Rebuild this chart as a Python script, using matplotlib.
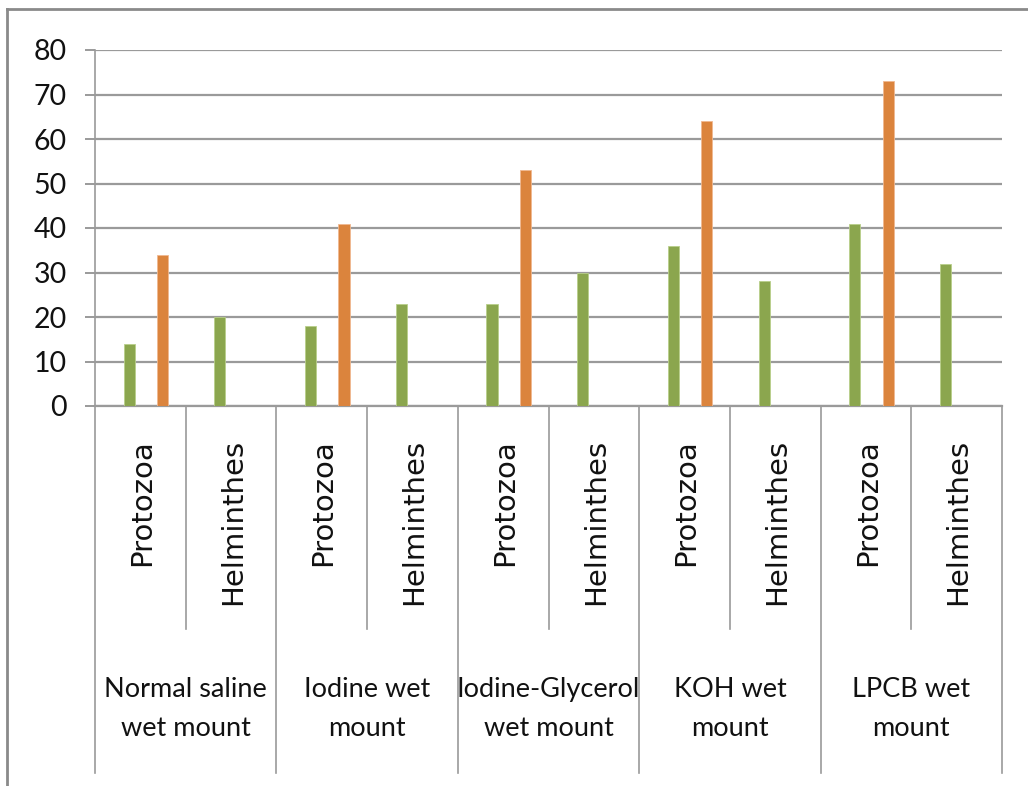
import matplotlib
matplotlib.use("Agg")
import matplotlib.pyplot as plt
import matplotlib.transforms as mtransforms
from matplotlib.lines import Line2D
import numpy as np

# Data: detection counts by staining method and parasite group
methods = ["Normal saline\nwet mount", "Iodine wet\nmount", "Iodine-Glycerol\nwet mount",
           "KOH wet\nmount", "LPCB wet\nmount"]
subgroups = ["Protozoa", "Helminthes"]
green_vals = [14, 20, 18, 23, 23, 30, 36, 28, 41, 32]
orange_vals = [34, 0, 41, 0, 53, 0, 64, 0, 73, 0]
y_ticks = [0, 10, 20, 30, 40, 50, 60, 70, 80]

GREEN = "#8BA64E"
ORANGE = "#DB843D"
GRID = "#9a9a9a"

W, H = 1028, 786
fig = plt.figure(figsize=(W / 100, H / 100), dpi=100)
fig.patch.set_facecolor("white")

ax_left, ax_right, ax_top, ax_bottom = 95, 1002, 50, 406
ax = fig.add_axes([ax_left / W, 1 - ax_bottom / H, (ax_right - ax_left) / W, (ax_bottom - ax_top) / H])

n_cat = len(green_vals)
centers = np.arange(n_cat) + 0.5
bar_w = 0.123
ax.bar(centers - bar_w, green_vals, width=bar_w, color=GREEN, edgecolor="#b9cf8a", linewidth=0.6, zorder=3)
ax.bar(centers + 2 * bar_w, orange_vals, width=bar_w, color=ORANGE, edgecolor="#f0b890", linewidth=0.6, zorder=3)

ax.set_xlim(0, n_cat)
ax.set_ylim(0, 80)
ax.set_yticks(y_ticks)
ax.set_xticks([])
ax.yaxis.grid(True, color=GRID, linewidth=1.6, zorder=0)
ax.set_axisbelow(True)
for side in ("top", "right"):
    ax.spines[side].set_visible(False)
ax.spines["left"].set_color(GRID)
ax.spines["left"].set_linewidth(1.2)
ax.spines["bottom"].set_color(GRID)
ax.spines["bottom"].set_linewidth(1.6)
ax.tick_params(axis="y", length=7.2, width=1.4, color=GRID, pad=13,
               labelsize=20.5, labelcolor="#111111")
for lbl in ax.get_yticklabels():
    lbl.set_fontfamily("Lato")

# Category axis: rotated subgroup labels, separators and method labels
trans = mtransforms.blended_transform_factory(ax.transData, fig.transFigure)
y_axis_fig = 1 - ax_bottom / H
y_short = 1 - 629 / H
y_long = 1 - 773 / H
for i in range(n_cat + 1):
    y_end = y_long if i % 2 == 0 else y_short
    fig.add_artist(Line2D([i, i], [y_axis_fig, y_end], transform=trans, color=GRID, linewidth=1.2))

for i, c in enumerate(centers):
    fig.text(c + 0.02, 1 - 439 / H, subgroups[i % 2], transform=trans, rotation=90,
             ha="center", va="top", fontsize=21, family="DejaVu Sans", color="#111111")

for j, name in enumerate(methods):
    fig.text(2 * j + 1, 1 - 709 / H, name, transform=trans, ha="center", va="center",
             fontsize=19.5, family="Lato", color="#111111", linespacing=1.72)

# Outer chart frame
fig.add_artist(Line2D([7 / W, 7 / W], [1 - 9 / H, 0], transform=fig.transFigure, color="#8a8a8a", linewidth=2))
fig.add_artist(Line2D([7 / W, 1], [1 - 9 / H, 1 - 9 / H], transform=fig.transFigure, color="#8a8a8a", linewidth=2))

fig.savefig("out.png", dpi=100)
